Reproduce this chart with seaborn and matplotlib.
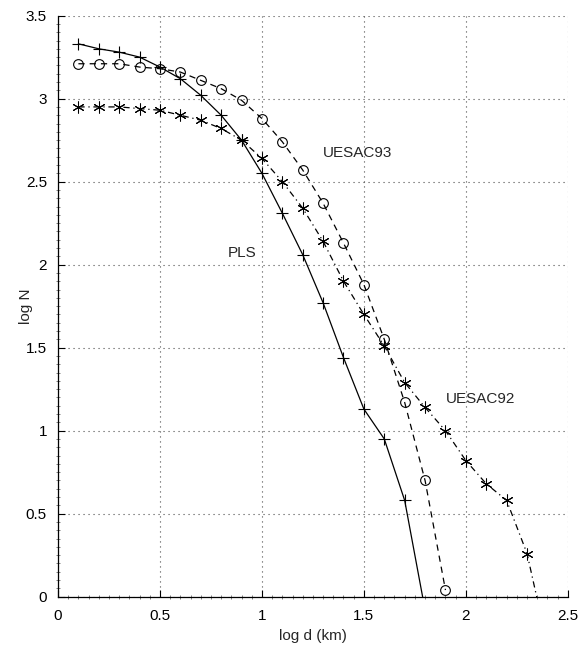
import matplotlib
matplotlib.use("Agg")
import matplotlib.pyplot as plt
import seaborn as sns
import pandas as pd
from matplotlib.ticker import MultipleLocator

# ---- data ----
x_pls = [0.1, 0.2, 0.3, 0.4, 0.5, 0.6, 0.7, 0.8, 0.9, 1.0, 1.1, 1.2, 1.3, 1.4, 1.5, 1.6, 1.7, 1.8]
y_pls = [3.33, 3.30, 3.28, 3.25, 3.19, 3.12, 3.02, 2.90, 2.75, 2.55, 2.31, 2.06, 1.77, 1.44, 1.13, 0.95, 0.58, -0.08]

x_u93 = [0.1, 0.2, 0.3, 0.4, 0.5, 0.6, 0.7, 0.8, 0.9, 1.0, 1.1, 1.2, 1.3, 1.4, 1.5, 1.6, 1.7, 1.8, 1.9]
y_u93 = [3.21, 3.21, 3.21, 3.19, 3.18, 3.16, 3.11, 3.06, 2.99, 2.88, 2.74, 2.57, 2.37, 2.13, 1.88, 1.55, 1.17, 0.70, 0.04]

x_u92 = [0.1, 0.2, 0.3, 0.4, 0.5, 0.6, 0.7, 0.8, 0.9, 1.0, 1.1, 1.2, 1.3, 1.4, 1.5, 1.6, 1.7, 1.8, 1.9, 2.0,
         2.1, 2.2, 2.3, 2.4]
y_u92 = [2.95, 2.95, 2.95, 2.94, 2.93, 2.90, 2.87, 2.82, 2.75, 2.64, 2.50, 2.34, 2.14, 1.90, 1.70, 1.51, 1.29,
         1.14, 1.00, 0.82, 0.68, 0.58, 0.26, -0.29]

labels = ["PLS", "UESAC93", "UESAC92"]
label_pos = [(0.83, 2.07), (1.30, 2.67), (1.90, 1.19)]

x_ticks = [0, 0.5, 1, 1.5, 2, 2.5]
y_ticks = [0, 0.5, 1, 1.5, 2, 2.5, 3, 3.5]
x_ticklabels = ["0", "0.5", "1", "1.5", "2", "2.5"]
y_ticklabels = ["0", "0.5", "1", "1.5", "2", "2.5", "3", "3.5"]

sns.set_style("white")
plt.rcParams['font.family'] = ['Liberation Sans', 'DejaVu Sans']

fig = plt.figure(figsize=(5.8, 6.5), dpi=100)
ax = fig.add_axes([0.1, 0.082, 0.879, 0.894])

df_pls = pd.DataFrame({"x": x_pls, "y": y_pls})
df_93 = pd.DataFrame({"x": x_u93, "y": y_u93})
df_92 = pd.DataFrame({"x": x_u92, "y": y_u92})

sns.lineplot(data=df_pls, x="x", y="y", ax=ax, color="k", lw=0.9, marker="+", markersize=9,
             markeredgecolor="k", markeredgewidth=0.8, linestyle="-", sort=False)
sns.lineplot(data=df_93, x="x", y="y", ax=ax, color="k", lw=0.9, marker="o", markersize=7,
             markerfacecolor="none", markeredgecolor="k", markeredgewidth=0.8, sort=False)
ax.lines[-1].set_dashes((5, 4))
sns.lineplot(data=df_92, x="x", y="y", ax=ax, color="k", lw=0.9, marker=(6, 2, 0), markersize=8.5,
             markeredgecolor="k", markeredgewidth=0.75, sort=False)
ax.lines[-1].set_dashes((5, 3, 1, 3))

for t, (px, py) in zip(labels, label_pos):
    ax.text(px, py, t, ha="left", va="center", fontsize=11)

ax.set_xlim(0, 2.5)
ax.set_ylim(0, 3.5)
ax.set_xticks(x_ticks)
ax.set_xticklabels(x_ticklabels)
ax.set_yticks(y_ticks)
ax.set_yticklabels(y_ticklabels)
ax.xaxis.set_minor_locator(MultipleLocator(0.05))
ax.yaxis.set_minor_locator(MultipleLocator(0.05))
ax.tick_params(which="major", direction="in", length=5, width=0.8, labelsize=11, colors="k")
ax.tick_params(axis="x", which="major", pad=9)
ax.tick_params(axis="y", which="major", pad=8)
ax.tick_params(which="minor", direction="inout", length=3, width=0.5, colors="0.3")
ax.tick_params(axis="x", which="both", top=False, bottom=True)
ax.tick_params(axis="y", which="both", left=True, right=False)

ax.grid(True, which="major", color="0.3", linestyle=(0, (1, 3.5)), linewidth=0.8)
for s in ["top", "right"]:
    ax.spines[s].set_visible(False)
for s in ["left", "bottom"]:
    ax.spines[s].set_color("k")
    ax.spines[s].set_linewidth(0.9)

ax.set_xlabel("log d (km)", fontsize=11)
ax.set_ylabel("log N", fontsize=11)
ax.xaxis.set_label_coords(0.5, -0.055)
ax.yaxis.set_label_coords(-0.05, 0.5)

fig.savefig("out.png", dpi=100)
